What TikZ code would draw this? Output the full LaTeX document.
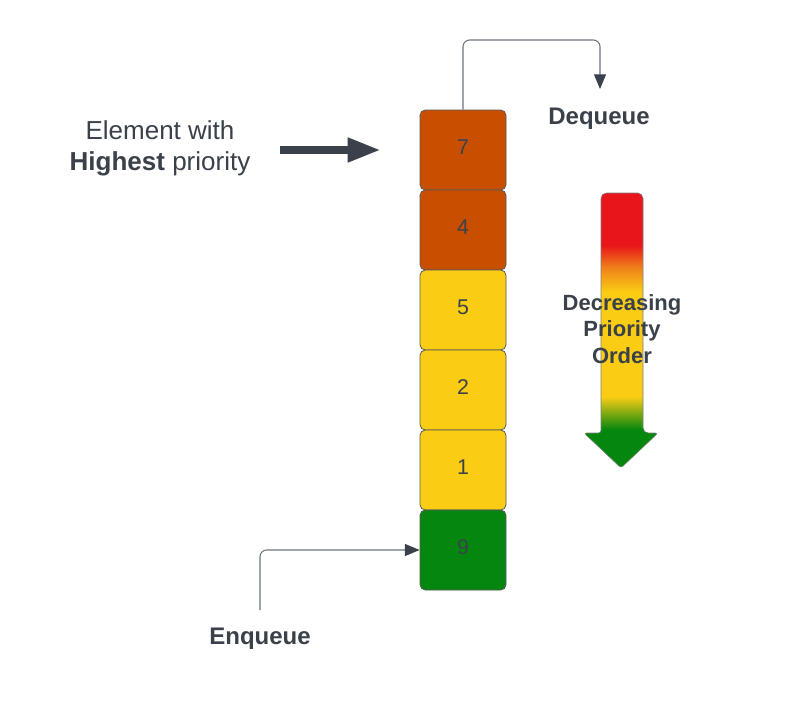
\documentclass[tikz,border=0pt]{standalone}
\usepackage{fontspec}
\setmainfont{Liberation Sans}
\usetikzlibrary{arrows.meta}
\definecolor{txt}{HTML}{3A414A}
\definecolor{lnc}{HTML}{6E7580}
\definecolor{porange}{HTML}{C94F00}
\definecolor{pyellow}{HTML}{FACD14}
\definecolor{pgreen}{HTML}{05870F}
\definecolor{pred}{HTML}{E8151A}
\definecolor{porg}{HTML}{F0801A}
\pgfdeclareverticalshading{prio}{100bp}{color(0bp)=(pgreen); color(32bp)=(pgreen); color(38bp)=(pyellow); color(57bp)=(pyellow); color(61.5bp)=(porg); color(65.5bp)=(pred); color(100bp)=(pred)}
\begin{document}
\begin{tikzpicture}[x=0.75pt,y=-0.75pt,
  qbox/.style={draw=black!65, line width=0.6pt, rounded corners=4pt, minimum width=64.5pt, minimum height=60pt, inner sep=0pt, text depth=5pt, font=\fontsize{16}{19}\selectfont, text=txt},
  conn/.style={draw=lnc, line width=0.8pt, rounded corners=5pt, -{Triangle[length=11pt,width=9pt,fill=txt,color=txt]}},
  lbl/.style={text=txt, font=\fontsize{18}{21}\selectfont\bfseries}]
\useasboundingbox (0,0) rectangle (798,710);
\fill[white] (0,0) rectangle (798,710);
% queue boxes
\node[qbox, fill=porange] (b7) at (463,150) {7};
\node[qbox, fill=porange] (b4) at (463,230) {4};
\node[qbox, fill=pyellow] (b5) at (463,310) {5};
\node[qbox, fill=pyellow] (b2) at (463,390) {2};
\node[qbox, fill=pyellow] (b1) at (463,470) {1};
\node[qbox, fill=pgreen] (b9) at (463,550) {9};
% dequeue
\coordinate (deqEnd) at (600,89);
\draw[conn] (b7.north) -- (463,40) -- (600,40) -- (deqEnd);
\node[lbl] (deq) at (599,119) {Dequeue};
% enqueue
\coordinate (enqStart) at (260,610);
\draw[conn] (enqStart) |- (b9.west);
\node[lbl] (enq) at (260,639) {Enqueue};
% element with highest priority
\node[text=txt, align=center, font=\fontsize{19.5}{23.5}\selectfont] (elem) at (160,148.5) {Element with\\\textbf{Highest} priority};
\coordinate (hpA) at (280,150);
\coordinate (hpB) at (381,150);
\draw[txt, line width=6pt, -{Triangle[length=25pt,width=17pt]}] (hpA) -- (hpB);
% gradient arrow
\shade[shading=prio, draw=black!50, line width=0.4pt, rounded corners=4pt]
  (601,433) -- (601,193) -- (643,193) -- (643,433) [rounded corners=2pt] -- (658,433) -- (621,468) -- (584,433) -- cycle;
\node[text=txt, align=center, font=\fontsize{16.5}{20}\selectfont\bfseries] (dpo) at (622,329) {Decreasing\\Priority\\Order};
\end{tikzpicture}
\end{document}
